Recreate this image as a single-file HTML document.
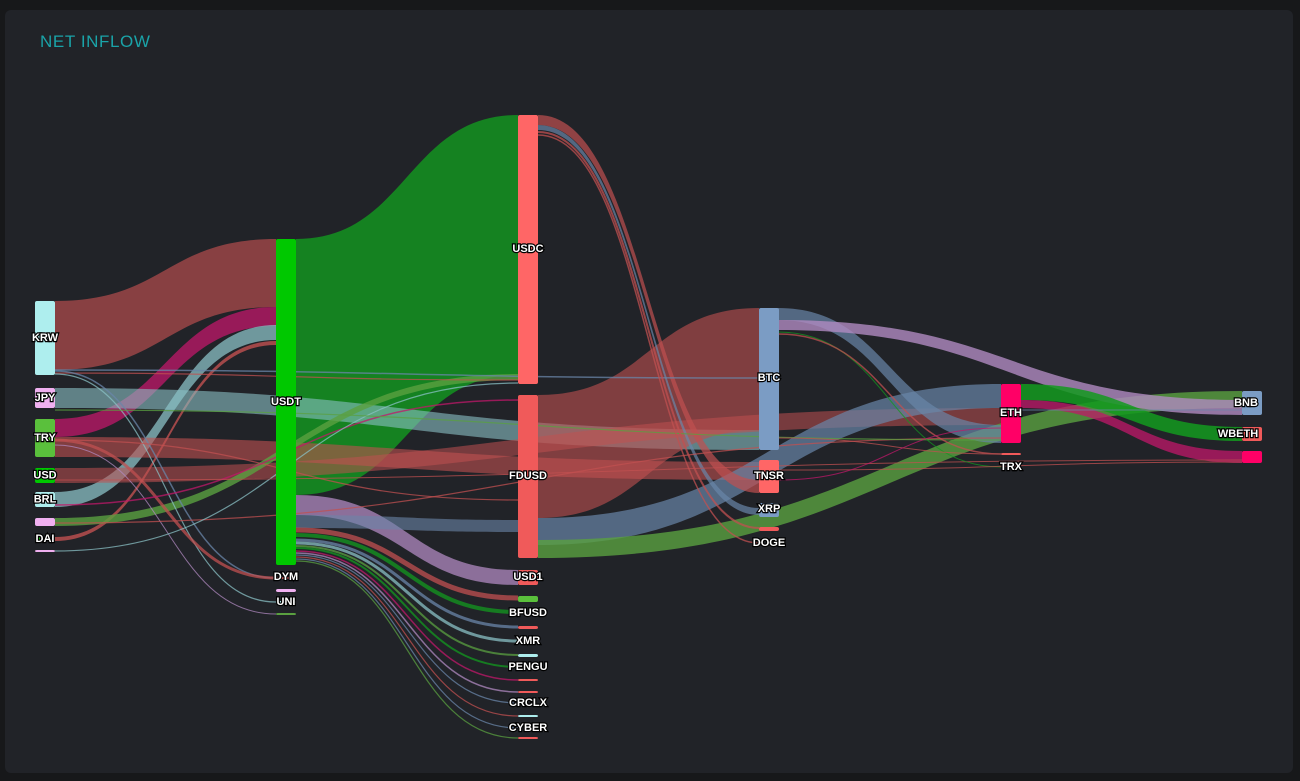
<!DOCTYPE html>
<html><head><meta charset="utf-8"><style>
html,body{margin:0;padding:0;background:#17181a;width:1300px;height:781px;overflow:hidden}
#p{position:absolute;left:5px;top:10px;width:1288px;height:763px;background:#212328;border-radius:6px}
#t{position:absolute;left:40px;top:32px;color:#1aa3a8;font:17px "Liberation Sans",sans-serif;letter-spacing:0.6px}
svg{position:absolute;left:0;top:0}
text{font:bold 11px "Liberation Sans",sans-serif;fill:#fff;stroke:#000;stroke-width:2.4px;paint-order:stroke;text-anchor:middle;dominant-baseline:middle}
</style></head><body>
<div id="p"></div><div id="t">NET INFLOW</div>
<svg id="s" width="1300" height="781"><g id="L"></g><g id="N"></g><g id="T"></g></svg>
<script>
var L=document.getElementById('L'),N=document.getElementById('N'),T=document.getElementById('T');
var ns='http://www.w3.org/2000/svg';
function band(x0,a0,b0,x1,a1,b1,c,o){var m=(x0+x1)/2,p=document.createElementNS(ns,'path');
p.setAttribute('d','M'+x0+' '+a0+'C'+m+' '+a0+' '+m+' '+a1+' '+x1+' '+a1+'L'+x1+' '+b1+'C'+m+' '+b1+' '+m+' '+b0+' '+x0+' '+b0+'Z');
p.setAttribute('fill',c);p.setAttribute('fill-opacity',o||0.7);L.appendChild(p);}
function line(x0,y0,x1,y1,c,w){var m=(x0+x1)/2,p=document.createElementNS(ns,'path');
p.setAttribute('d','M'+x0+' '+y0+'C'+m+' '+y0+' '+m+' '+y1+' '+x1+' '+y1);
p.setAttribute('fill','none');p.setAttribute('stroke',c);p.setAttribute('stroke-width',w||1.2);p.setAttribute('stroke-opacity',0.75);L.appendChild(p);}
function node(x,y0,y1,c,lab,ly,w){var r=document.createElementNS(ns,'rect');r.setAttribute('x',x);r.setAttribute('y',y0);r.setAttribute('width',w||20);r.setAttribute('height',Math.max(y1-y0,1.5));r.setAttribute('rx',2);r.setAttribute('fill',c);N.appendChild(r);
if(lab){var t=document.createElementNS(ns,'text');t.setAttribute('x',x+10);t.setAttribute('y',ly||(y0+y1)/2);t.textContent=lab;T.appendChild(t);}}
var R='#c05050',G='#139a1f',M='#c0186a',B='#6a86a8',P='#b08ac0',C='#8ac0c4',O='#5aa040';
band(55,301,370,276,239,307,R,0.65);
band(55,419,437,276,307,326,M,0.75);
band(55,492,507,276,325,340,C,0.75);
band(55,537,541,276,341,345,R,0.8);
band(296,239,495,518,115,375,G,0.8);
band(55,388,408,759,430,450,C,0.6);
band(55,437,457,759,462,480,R,0.6);
band(55,468,483,1001,408,425,R,0.55);
band(55,518,526,518,374,380,O,0.8);
band(296,495,515,518,570,585,P,0.75);
band(296,515,528,518,520,532,B,0.6);
band(538,395,518,759,308,430,R,0.6);
band(538,518,545,1001,384,408,B,0.7);
band(538,540,558,1242,391,408,O,0.8);
band(538,115,125,759,480,493,R,0.7);
band(538,125,130,759,508,515,B,0.7);
band(778,308,320,1001,425,443,B,0.7);
band(778,320,330,1242,400,415,P,0.8);
band(1021,384,400,1242,427,441,G,0.85);
band(1021,400,408,1242,451,463,M,0.75);
line(55,370,759,378,B,1.5);line(55,373,518,380,R,1.2);line(55,371,276,578,B,1.5);line(55,374,276,602,C,1.2);
line(55,440,276,578,R,3);line(55,445,276,614,P,1);line(55,440,518,500,R,1.2);
line(55,505,518,400,M,1.5);line(55,523,1001,438,R,1.2);line(55,551,518,383,C,1.2);
line(55,410,1001,440,O,1.2);line(55,480,1242,460,R,1);
line(296,530,518,598,R,5);line(296,535,518,612,G,4);line(296,540,518,627,B,3);line(296,543,518,641,C,3);
line(296,546,518,655,O,2);line(296,548,518,667,G,2);line(296,551,518,680,M,1.5);line(296,553,518,692,P,1.5);
line(296,555,518,703,B,1.2);line(296,557,518,716,R,1.2);line(296,559,518,728,B,1.2);line(296,561,518,738,O,1.2);
line(538,132,759,528,R,2);line(538,135,759,543,R,1.5);
line(778,332,1001,467,G,1);line(778,334,1001,454,R,1.5);line(778,438,1001,454,R,1);
line(778,470,1242,462,R,1);line(778,480,1001,428,M,1);line(1021,410,1242,410,B,1);
node(35,301,375,'#aeeeee','KRW');node(35,388,408,'#f0b0f0','JPY');node(35,419,457,'#5ac03c','TRY');
node(35,468,483,'#00c800','USD');node(35,492,507,'#aeeeee','BRL');node(35,518,526,'#f0b0f0');
node(35,537,541,'#00c800','DAI',539,5);node(35,550,552,'#f0b0f0');
node(276,239,565,'#00c800','USDT',402);node(276,577,579,R,'DYM',577);node(276,589,592,'#f0b0f0');
node(276,601,603,'#aeeeee','UNI',602);node(276,613,615,O);
node(518,115,384,'#ff6666','USDC',249);node(518,395,558,'#f05a5a','FDUSD',476);node(518,570,585,'#f05a5a','USD1',577);
node(518,596,602,'#5ac03c');
node(518,626,629,'#f05a5a');node(518,654,657,'#aeeeee');node(518,679,681,'#f05a5a');node(518,691,693,'#f05a5a');
node(518,715,717,'#aeeeee');node(518,737,739,'#f05a5a');
var labs=[['BFUSD',613],['XMR',641],['PENGU',667],['CRCLX',703],['CYBER',728]];
labs.forEach(function(l){var t=document.createElementNS(ns,'text');t.setAttribute('x',528);t.setAttribute('y',l[1]);t.textContent=l[0];T.appendChild(t);});
node(759,308,450,'#7b9cc4','BTC',378);node(759,460,493,'#ff6666','TNSR',476);node(759,503,517,'#7b9cc4','XRP',509);
node(759,527,531,'#f05a5a');
var t=document.createElementNS(ns,'text');t.setAttribute('x',769);t.setAttribute('y',543);t.textContent='DOGE';T.appendChild(t);
node(1001,384,443,'#ff0066','ETH',413);node(1001,453,455,'#f05a5a');
t=document.createElementNS(ns,'text');t.setAttribute('x',1011);t.setAttribute('y',467);t.textContent='TRX';T.appendChild(t);
node(1242,391,415,'#7b9cc4');node(1242,427,441,'#f05a5a');node(1242,451,463,'#ff0066');
[['BNB',1246,403],['WBETH',1238,434]].forEach(function(l){var t=document.createElementNS(ns,'text');t.setAttribute('x',l[1]);t.setAttribute('y',l[2]);t.textContent=l[0];T.appendChild(t);});
</script>
</body></html>
